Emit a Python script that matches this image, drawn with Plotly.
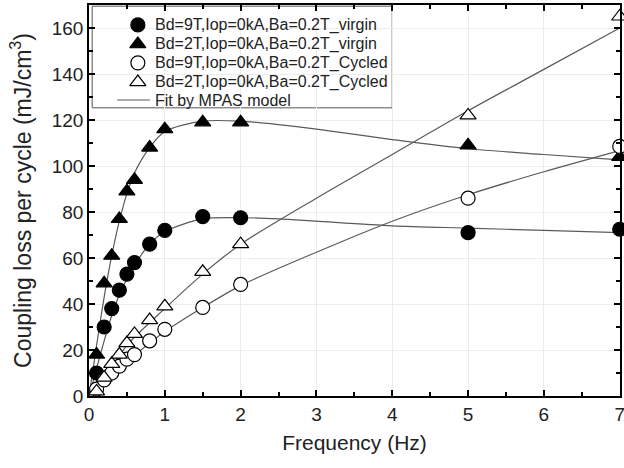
import plotly.graph_objects as go

freq = [0.1, 0.2, 0.3, 0.4, 0.5, 0.6, 0.8, 1.0, 1.5, 2.0, 5.0, 7.0]
bd9_virgin = [10, 30, 38, 46, 53, 58, 66, 72, 78, 77.5, 71, 72.5]
bd2_virgin = [18, 49, 61, 77, 89, 94, 108, 116, 119, 119, 109, 104]
bd9_cycled = [3, 7, 10, 13, 16, 18, 24, 29, 38.5, 48.5, 86, 108.5]
bd2_cycled = [2, 8, 14, 18, 23, 27, 33, 39, 54, 66, 122, 165]

fit_x_v = [0, 0.1, 0.2, 0.3, 0.4, 0.5, 0.6, 0.8, 1.0, 1.5, 2.0, 2.5, 3.0, 4.0, 5.0, 6.0, 7.0]
fit_bd9_virgin = [0, 12, 24, 35, 44, 51, 57, 66, 71.5, 77, 77.5, 77, 76, 74, 73, 72, 71]
fit_bd2_virgin = [0, 22, 43, 61, 76, 88, 97, 108, 115, 119.5, 119.5, 118, 116, 111.5, 107.5, 105, 102.7]

fit_x_c = [0, 0.2, 0.5, 1.0, 1.5, 2.0, 3.0, 4.0, 5.0, 6.0, 7.0]
fit_bd9_cycled = [0, 7, 15, 28, 38.5, 48, 62.5, 76, 87.5, 97.5, 106.7]
fit_bd2_cycled = [0, 8, 22, 38, 53, 66, 86, 105, 124, 142, 160]

labels = ["Bd=9T,Iop=0kA,Ba=0.2T_virgin", "Bd=2T,Iop=0kA,Ba=0.2T_virgin",
          "Bd=9T,Iop=0kA,Ba=0.2T_Cycled", "Bd=2T,Iop=0kA,Ba=0.2T_Cycled"]
fit_label = "Fit by MPAS model"

fit_color = "#5a5a5a"
fig = go.Figure()

fits = [(fit_x_v, fit_bd9_virgin), (fit_x_v, fit_bd2_virgin),
        (fit_x_c, fit_bd9_cycled), (fit_x_c, fit_bd2_cycled)]
for fx, fy in fits:
    fig.add_trace(go.Scatter(x=fx, y=fy, mode="lines", line=dict(color=fit_color, width=1.2, shape="spline", smoothing=0.8),
                             name=fit_label, showlegend=False))

series = [
    (bd9_virgin, "circle", "black"),
    (bd2_virgin, "triangle-up", "black"),
    (bd9_cycled, "circle", "white"),
    (bd2_cycled, "triangle-up", "white"),
]
for i, (ys, sym, fill) in enumerate(series):
    fig.add_trace(go.Scatter(x=freq, y=ys, mode="markers", name=labels[i], showlegend=False,
                             marker=dict(symbol=sym, size=14, color=fill, line=dict(color="black", width=1.2)),
                             cliponaxis=False))

# ---- legend box (drawn manually to match the compact original layout) ----
leg_left, leg_right, leg_top, leg_bottom = 0.006, 0.571, 0.997, 0.737
row_y = [0.949, 0.900, 0.852, 0.803, 0.757]
key_x, text_x = 0.092, 0.121
fig.add_shape(type="rect", xref="paper", yref="paper", x0=leg_left, x1=leg_right, y0=leg_bottom, y1=leg_top,
              fillcolor="white", line=dict(color="#555", width=1), layer="between")
for i, (ys, sym, fill) in enumerate(series):
    fig.add_trace(go.Scatter(x=[key_x], y=[row_y[i]], xaxis="x2", yaxis="y2", mode="markers", showlegend=False,
                             hoverinfo="skip",
                             marker=dict(symbol=sym, size=14, color=fill, line=dict(color="black", width=1.2))))
    fig.add_annotation(x=text_x, y=row_y[i], xref="paper", yref="paper", text=labels[i], showarrow=False,
                       xanchor="left", yanchor="middle", font=dict(size=16, color="#222"))
fig.add_trace(go.Scatter(x=[0.053, 0.115], y=[row_y[4], row_y[4]], xaxis="x2", yaxis="y2", mode="lines",
                         showlegend=False, hoverinfo="skip", line=dict(color=fit_color, width=1.2)))
fig.add_annotation(x=text_x, y=row_y[4], xref="paper", yref="paper", text=fit_label, showarrow=False,
                   xanchor="left", yanchor="middle", font=dict(size=16, color="#222"))

axis_common = dict(showline=True, linecolor="black", linewidth=1.5, mirror="ticks", ticks="inside",
                   ticklen=6, tickwidth=1.5, tickcolor="black", showgrid=True, gridcolor="#ececec",
                   zeroline=False, tickfont=dict(size=19, color="#222"), automargin=False)
fig.update_xaxes(range=[0, 7.004], dtick=1, ticklabeloverflow="allow",
                 title=dict(text="Frequency (Hz)", font=dict(size=21, color="#222"), standoff=12),
                 minor=dict(dtick=0.5, ticks="inside", ticklen=4, tickcolor="black", showgrid=False), **axis_common)
fig.update_yaxes(range=[0, 170], dtick=20,
                 title=dict(text="Coupling loss per cycle (mJ/cm<sup>3</sup>)", font=dict(size=23, color="#222"), standoff=14),
                 minor=dict(dtick=10, ticks="inside", ticklen=4, tickcolor="black", showgrid=False), **axis_common)

fig.update_layout(
    width=624, height=468,
    margin=dict(l=89, r=4, t=5, b=72),
    paper_bgcolor="white", plot_bgcolor="white",
    font=dict(family="Liberation Sans, Arial, sans-serif", color="#222"),
    xaxis2=dict(overlaying="x", range=[0, 1], visible=False, fixedrange=True),
    yaxis2=dict(overlaying="y", range=[0, 1], visible=False, fixedrange=True),
    showlegend=False,
)

fig.write_html("out.html", config={"displayModeBar": False},
               post_script="document.body.style.margin='0px';")
